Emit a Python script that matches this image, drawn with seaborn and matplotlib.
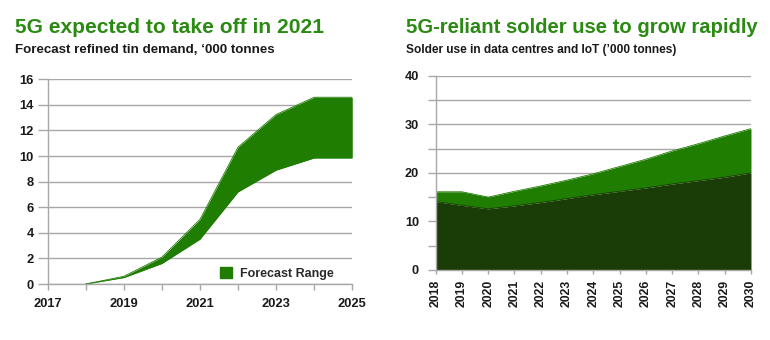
import matplotlib
matplotlib.use("Agg")
import matplotlib.pyplot as plt
from matplotlib.patches import Patch
from matplotlib.ticker import MultipleLocator
import seaborn as sns

# Left panel: forecast refined tin demand range ('000 tonnes)
tin_years = [2017, 2018, 2019, 2020, 2021, 2022, 2023, 2024, 2025]
tin_low = [None, 0.0, 0.5, 1.6, 3.5, 7.2, 8.9, 9.85, 9.85]
tin_high = [None, 0.0, 0.6, 2.1, 5.05, 10.7, 13.25, 14.6, 14.6]
tin_tick_labels = ["2017", "2019", "2021", "2023", "2025"]

# Right panel: solder use in data centres and IoT ('000 tonnes)
solder_years = list(range(2018, 2031))
solder_base = [14.1, 13.3, 12.6, 13.2, 13.9, 14.7, 15.5, 16.2, 16.9, 17.7, 18.4, 19.1, 20.0]
solder_total = [16.1, 16.1, 15.0, 16.2, 17.3, 18.5, 19.8, 21.3, 22.8, 24.5, 26.0, 27.6, 29.1]

GREEN = "#1f7d02"
DARK = "#1a3c06"
TITLE = "#2a8a12"
GRID = "#a8a8a8"
TXT = "#1a1a1a"

sns.set_theme(style="white")
plt.rcParams["font.family"] = ["Liberation Sans", "DejaVu Sans"]
plt.rcParams["font.weight"] = "bold"

fig = plt.figure(figsize=(7.7, 3.4), dpi=100)

# ---------- left panel ----------
ax1 = fig.add_axes([0.0619, 0.1647, 0.3956, 0.602])
yrs = tin_years[1:]
lo = tin_low[1:]
hi = tin_high[1:]
ax1.fill_between(yrs, lo, hi, color=GREEN, linewidth=0)
sns.lineplot(x=yrs, y=hi, ax=ax1, color=GREEN, linewidth=0.6)
sns.lineplot(x=yrs, y=lo, ax=ax1, color=GREEN, linewidth=0.6)
ax1.set_xlim(2017, 2025)
ax1.set_ylim(0, 16)
ax1.yaxis.set_major_locator(MultipleLocator(2))
ax1.set_xticks([int(t) for t in tin_tick_labels])
ax1.set_xticklabels(tin_tick_labels)
ax1.xaxis.set_minor_locator(MultipleLocator(1))
ax1.grid(axis="y", color=GRID, linewidth=1)
ax1.set_axisbelow(True)
for s in ["top", "right"]:
    ax1.spines[s].set_visible(False)
for s in ["left", "bottom"]:
    ax1.spines[s].set_color(GRID)
    ax1.spines[s].set_linewidth(1)
ax1.tick_params(axis="y", which="major", length=7, width=1, color=GRID,
                labelsize=9.3, labelcolor=TXT, pad=3, left=True)
ax1.tick_params(axis="x", which="both", length=4, width=1, color=GRID,
                labelsize=9.3, labelcolor=TXT, pad=6, bottom=True)
ax1.legend(handles=[Patch(color=GREEN, label="Forecast Range")],
           loc="lower right", bbox_to_anchor=(0.975, -0.035), frameon=False,
           handlelength=1.0, handleheight=1.0, handletextpad=0.6,
           prop={"size": 9, "weight": "bold"}, labelcolor="#2a2a2a")
ax1.set_xlabel("")
ax1.set_ylabel("")

# ---------- right panel ----------
ax2 = fig.add_axes([0.5658, 0.2059, 0.4095, 0.5715])
ax2.fill_between(solder_years, 0, solder_base, color=DARK, linewidth=0)
ax2.fill_between(solder_years, solder_base, solder_total, color=GREEN, linewidth=0)
sns.lineplot(x=solder_years, y=solder_total, ax=ax2, color=GREEN, linewidth=0.6)
sns.lineplot(x=solder_years, y=solder_base, ax=ax2, color=DARK, linewidth=0.6)
ax2.set_xlim(2018, 2030)
ax2.set_ylim(0, 40)
ax2.yaxis.set_major_locator(MultipleLocator(10))
ax2.yaxis.set_minor_locator(MultipleLocator(5))
ax2.set_xticks(solder_years)
ax2.set_xticklabels([str(y) for y in solder_years], rotation=90)
ax2.grid(axis="y", which="both", color=GRID, linewidth=1)
ax2.set_axisbelow(True)
for s in ["top", "right"]:
    ax2.spines[s].set_visible(False)
for s in ["left", "bottom"]:
    ax2.spines[s].set_color(GRID)
    ax2.spines[s].set_linewidth(1)
ax2.tick_params(axis="y", which="both", length=6, width=1, color=GRID,
                labelsize=9.2, labelcolor=TXT, pad=6, left=True)
ax2.tick_params(axis="x", which="major", length=3, width=1, color=GRID,
                labelsize=8.8, labelcolor=TXT, pad=4, bottom=True)
ax2.set_xlabel("")
ax2.set_ylabel("")

# ---------- titles ----------
fig.text(0.019, 0.903, "5G expected to take off in 2021", color=TITLE,
         fontsize=15.1, fontweight="bold", va="baseline")
fig.text(0.019, 0.845, "Forecast refined tin demand, \u2018000 tonnes", color=TXT,
         fontsize=9.6, fontweight="bold", va="baseline")
fig.text(0.527, 0.903, "5G-reliant solder use to grow rapidly", color=TITLE,
         fontsize=14.6, fontweight="bold", va="baseline")
fig.text(0.527, 0.845, "Solder use in data centres and IoT (\u2019000 tonnes)", color=TXT,
         fontsize=8.6, fontweight="bold", va="baseline")

fig.savefig("out.png", dpi=100)
